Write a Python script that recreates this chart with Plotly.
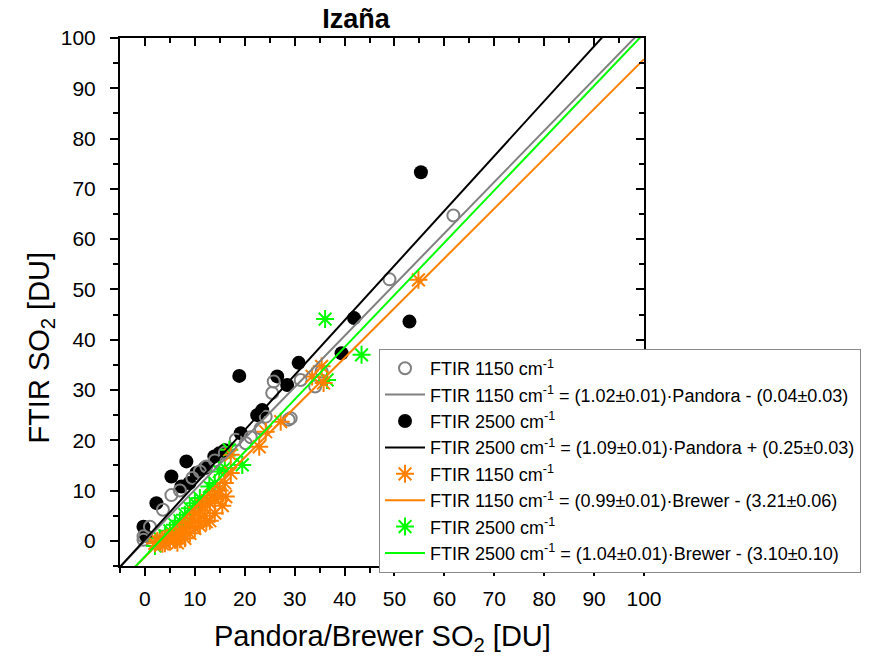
import plotly.graph_objects as go

# ---------------- data ----------------
pandora_1150_x = [-0.3, -0.3, 1.0, 3.6, 5.3, 7.0, 9.5, 11.0, 12.3, 14.0, 16.0, 18.2, 20.2, 21.2,
                  23.2, 24.2, 25.5, 25.8, 28.8, 29.2, 31.2, 34.1, 35.4, 49.0, 61.8]
ftir_1150_pandora_y = [0.2, 0.9, 2.8, 6.2, 9.1, 10.0, 12.5, 13.8, 14.8, 16.0, 17.5, 20.1, 19.4, 20.6,
                       22.4, 24.7, 29.4, 31.7, 24.1, 24.4, 32.0, 30.7, 33.7, 52.0, 64.7]

pandora_2500_x = [-0.3, 0.2, 2.3, 5.3, 7.3, 8.3, 8.9, 10.3, 12.0, 13.9, 14.9, 16.0, 18.9, 19.2,
                  22.5, 23.5, 26.5, 28.5, 30.8, 39.4, 41.9, 53.0, 55.3]
ftir_2500_pandora_y = [2.8, 1.0, 7.5, 12.8, 10.8, 15.8, 11.5, 13.5, 14.5, 16.8, 17.4, 18.0, 32.8, 21.4,
                       25.0, 26.0, 32.7, 31.0, 35.4, 37.3, 44.3, 43.6, 73.3]

brewer_1150_x = [2.0, 2.5, 3.0, 3.5, 3.5, 4.0, 4.5, 5.0, 5.0, 5.5, 6.0, 6.3, 6.5, 7.0, 7.0, 7.5, 8.0,
                 8.0, 8.5, 9.0, 9.0, 9.5, 10.0, 10.0, 10.6, 11.0, 11.0, 11.5, 12.0, 12.3, 12.5, 13.0,
                 13.0, 13.5, 14.0, 14.0, 14.6, 15.0, 15.5, 16.0, 16.2, 17.2, 17.2, 22.9, 24.2, 27.2,
                 33.5, 35.4, 35.8, 54.8]
ftir_1150_brewer_y = [-0.5, 0.0, -0.3, 0.2, -0.6, -0.5, 0.5, -0.2, 0.8, 1.0, 0.2, 0.5, -0.4, 1.5, 0.3,
                      2.5, 1.8, 0.5, 3.5, 2.8, 1.5, 4.5, 5.5, 2.5, 3.8, 6.0, 3.0, 7.0, 5.0, 3.8, 8.0,
                      7.5, 4.0, 9.0, 8.2, 5.5, 9.1, 10.0, 7.0, 11.5, 8.8, 13.5, 17.1, 18.7, 21.7, 23.7,
                      32.7, 34.7, 31.4, 51.9]

brewer_2500_x = [2.0, 3.0, 4.0, 5.0, 6.0, 7.0, 8.0, 9.0, 10.0, 11.0, 12.9, 14.0, 14.9, 16.0, 16.9,
                 19.5, 36.5, 36.1, 43.4]
ftir_2500_brewer_y = [-1.0, 0.5, 1.0, 2.0, 3.2, 4.0, 5.2, 6.5, 7.5, 8.5, 10.8, 11.5, 13.8, 14.5, 18.1,
                      15.1, 32.0, 44.1, 37.0]

# linear fits from the legend: slope, intercept
fit_1150_pandora = (1.02, -0.04)
fit_2500_pandora = (1.09, 0.25)
fit_1150_brewer = (0.99, -3.21)
fit_2500_brewer = (1.04, -3.10)

axis_range = [-5, 100]
tick_values = list(range(0, 101, 10))

names = {
    "s1": "FTIR 1150 cm<sup>-1</sup>",
    "f1": "FTIR 1150 cm<sup>-1</sup> = (1.02±0.01)·Pandora - (0.04±0.03)",
    "s2": "FTIR 2500 cm<sup>-1</sup>",
    "f2": "FTIR 2500 cm<sup>-1</sup> = (1.09±0.01)·Pandora + (0.25±0.03)",
    "s3": "FTIR 1150 cm<sup>-1</sup>",
    "f3": "FTIR 1150 cm<sup>-1</sup> = (0.99±0.01)·Brewer - (3.21±0.06)",
    "s4": "FTIR 2500 cm<sup>-1</sup>",
    "f4": "FTIR 2500 cm<sup>-1</sup> = (1.04±0.01)·Brewer - (3.10±0.10)",
}
x_title = "Pandora/Brewer SO<sub>2</sub> [DU]"
y_title = "FTIR SO<sub>2</sub> [DU]"
chart_title = "<b>Izaña</b>"

GRAY = "#808080"
BLACK = "#000000"
ORANGE = "#FF8000"
GREEN = "#00FF00"
FONT = "Arial, Liberation Sans, sans-serif"

# plot area in pixels
L, R, T, B = 120, 648, 38, 566
W, H = 873, 657
PW, PH = R - L, B - T


def fit_line(fit):
    m, b = fit
    xs = [axis_range[0], axis_range[1]]
    return xs, [m * x + b for x in xs]


fig = go.Figure()

# markers
fig.add_trace(go.Scatter(x=pandora_2500_x, y=ftir_2500_pandora_y, mode="markers", name=names["s2"],
                         legendrank=3, marker=dict(symbol="circle", size=14, color=BLACK)))
fig.add_trace(go.Scatter(x=pandora_1150_x, y=ftir_1150_pandora_y, mode="markers", name=names["s1"],
                         legendrank=1, marker=dict(symbol="circle-open", size=12, color=GRAY,
                                                   line=dict(width=2, color=GRAY))))
fig.add_trace(go.Scatter(x=brewer_2500_x, y=ftir_2500_brewer_y, mode="markers", name=names["s4"],
                         legendrank=7, marker=dict(symbol="asterisk-open", size=15, color=GREEN,
                                                   line=dict(width=2, color=GREEN))))
fig.add_trace(go.Scatter(x=brewer_1150_x, y=ftir_1150_brewer_y, mode="markers", name=names["s3"],
                         legendrank=5, marker=dict(symbol="asterisk-open", size=15, color=ORANGE,
                                                   line=dict(width=2, color=ORANGE))))

# fit lines
for fit, color, key, rank in [(fit_1150_pandora, GRAY, "f1", 2), (fit_2500_pandora, BLACK, "f2", 4),
                              (fit_1150_brewer, ORANGE, "f3", 6), (fit_2500_brewer, GREEN, "f4", 8)]:
    xs, ys = fit_line(fit)
    fig.add_trace(go.Scatter(x=xs, y=ys, mode="lines", name=names[key], legendrank=rank,
                             line=dict(color=color, width=2)))

# dummy trace for mirrored axes (top/right with inward ticks)
fig.add_trace(go.Scatter(x=[None], y=[None], xaxis="x2", yaxis="y2", showlegend=False,
                         hoverinfo="skip"))

common = dict(range=axis_range, tickvals=tick_values, showline=True, linewidth=2, linecolor="black",
              showgrid=False, zeroline=False, tickwidth=2, tickcolor="black",
              tickfont=dict(family=FONT, size=21, color="black"))
minor_out = dict(ticks="outside", ticklen=5, tickwidth=2, dtick=5, tick0=0, tickcolor="black")
minor_in = dict(ticks="inside", ticklen=5, tickwidth=2, dtick=5, tick0=0, tickcolor="black")
mirror = dict(range=axis_range, tickvals=tick_values, showline=True, linewidth=2, linecolor="black",
              showgrid=False, zeroline=False, ticks="inside", ticklen=8, tickwidth=2,
              tickcolor="black", showticklabels=False, minor=minor_in)

fig.update_layout(
    width=W, height=H,
    margin=dict(l=L, r=W - R, t=T, b=H - B),
    plot_bgcolor="white", paper_bgcolor="white",
    title=dict(text=chart_title, x=356 / W, xanchor="center", xref="container",
               y=(H - 19) / H, yanchor="middle", yref="container",
               font=dict(family=FONT, size=27, color="black")),
    xaxis=dict(**common, ticks="outside", ticklen=8, minor=minor_out, ticklabelstandoff=5),
    yaxis=dict(**common, ticks="outside", ticklen=8, minor=minor_out, ticklabelstandoff=10),
    xaxis2=dict(**mirror, overlaying="x", side="top", anchor="y2"),
    yaxis2=dict(**mirror, overlaying="y", side="right", anchor="x2"),
    legend=dict(x=(381 - L) / PW, y=(B - 349) / PH, xanchor="left", yanchor="top",
                bgcolor="white", bordercolor="#888888", borderwidth=1,
                font=dict(family=FONT, size=18, color="black"), itemwidth=40,
                tracegroupgap=0),
    showlegend=True,
    annotations=[
        dict(text=x_title, xref="paper", yref="paper", x=(385 - L) / PW, y=(B - 638) / PH,
             xanchor="center", yanchor="middle", showarrow=False,
             font=dict(family=FONT, size=29, color="black")),
        dict(text=y_title, xref="paper", yref="paper", x=(40 - L) / PW, y=(B - 348) / PH,
             xanchor="center", yanchor="middle", textangle=-90, showarrow=False,
             font=dict(family=FONT, size=29, color="black")),
    ],
)

fig.write_html("out.html")
